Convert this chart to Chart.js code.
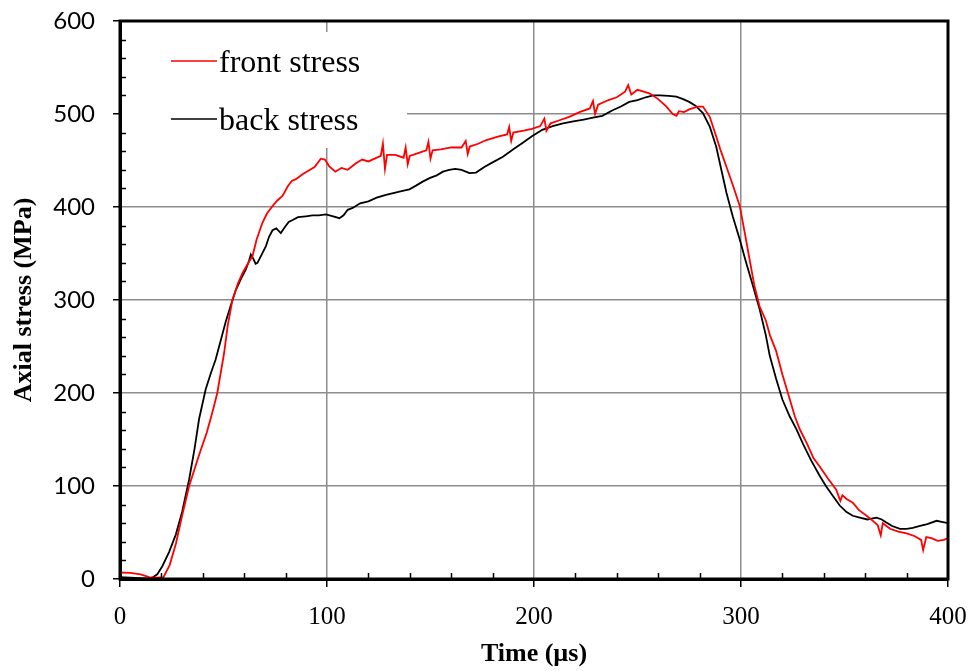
<!DOCTYPE html>
<html>
<head>
<meta charset="utf-8">
<script src="https://cdn.jsdelivr.net/npm/chart.js@4/dist/chart.umd.min.js"></script>
<style>
html,body{margin:0;padding:0;background:#fff;}
canvas{display:block;}
</style>
</head>
<body>
<canvas id="c" width="977" height="671"></canvas>
<script>
// ---- data ----
const seriesNames = ["front stress", "back stress"];
const xTickValues = [0, 100, 200, 300, 400];
const yTickValues = [0, 100, 200, 300, 400, 500, 600];

const frontTime = [0,5,10,14,18,21,24,27,30,33.4,38,42,44.6,47,50.3,52,54.3,57,59.2,62,64,66,68.8,71,73.7,76,78.5,81,83,85,88,91,94,97,99,101,104,107,110,114,117,120,123,126,127,128,129,133,137,138,139,140,144,148,149,150,151,155,160,165,167,168,169,173,177,183,187,188,189,190,195,199,203,205,206,208,212,217,222,227,228.5,229.5,231,236,240,244,245.5,247,250,253,256,260,264,267,268.8,270,272.5,275,279,281.6,284.9,288,290,293,296,299.4,302,304.2,306.5,309,312,314,317,320,323.6,326,328.4,332,335,338,342,346,348,349,351,354,357,360.7,364,366,367.5,368.5,372,376,380,384,387,388,389.5,392,395,398,400];
const frontStress = [7,6.5,5,2,1.5,2,15,38,68,100,132,158,179,200,243,272,300,318,329,340,347,365,383,393,401,407,412,422,428,430,435,439,443,452,451,444,438,442,440,447,451,449,452,455,468,441,456,456,453,464,446,455,458,461,470,452,461,462,464,464,471,457,465,468,472,476,478,486,471,480,482,484,487,495,482,490,493,497,502,506,514,500,510,515,518,524,531,521,526,524,522,516,508,500,498,503,502,505,508,508,497,476,462,443,424,401,370,343,315,293,278,262,245,220,193,175,161,145,130,121,108,96,84,90,86,82,74,68,62,58,47,60,54,51,49,46,42,31,45,44,41,42,44];

const backTime = [0,5,10,15,18,20.5,23.7,27,30,33.4,36,38.2,41.4,44,46.2,48.5,51,53.5,56,58.5,60.8,62.3,63.2,64.5,65.5,66.4,68.5,70.5,72,73.7,75.5,77.7,79.5,81.5,83.4,86,89.8,93,96,99.5,103,106,108,110,112.4,116,120,124,128.5,132,136,139.8,143,146,149.5,153,156,159,162,165,168.8,172,176,180,185,190,194.6,199,204,209,214,219,224,228.5,233,238,242,246,250,254,257.5,261,265,268.8,272,275,278,281.6,284.9,288,290.5,293,296,299.4,302.5,305.8,309,312,313.9,317,320,323.5,326.8,330,334,338,341,344.5,347.7,351,354,357.4,361,365.5,368,370,373,376.8,380,383,386.5,390,394.5,397,400];
const backStress = [2,1.5,1,0.5,5,14,29,48,72,107,140,172,204,222,236,255,276,294,311,323,333,342,349,344,339,340,349,358,368,375,377,372,378,384,386,389,390,391,391,392,390,388,391,397,399,404,406,410,413,415,417,419,423,427,431,434,438,440,441,440,436.5,437,443,448,454,462,469,476,483,487,490,492,494,496,498,504,508,513,515,518,520,520,519.5,518.7,516,513,509,501,486.5,465,440,415,390,365,340,315,290,262,240,215,193,175,161,145,127,111,100,89,79,72,68,66,64,66,64,61,57,54,54,55,57,59,62.6,61.5,60];

const seriesColors = ["#ff0000", "#000000"];

function toPoints(xs, ys){ return xs.map((x,i)=>({x:x, y:ys[i]})); }

const serif = "'Liberation Serif', 'Times New Roman', serif";

const decorPlugin = {
  id: 'decor',
  beforeDatasetsDraw(chart){
    const a = chart.chartArea, ctx = chart.ctx;
    ctx.save();
    ctx.fillStyle = '#ffffff';
    ctx.fillRect(a.left + 2, a.top + 11, 285, 116);
    ctx.restore();
  },
  afterDatasetsDraw(chart){
    const a = chart.chartArea, ctx = chart.ctx;
    const xs = chart.scales.x, ys = chart.scales.y;
    ctx.save();
    ctx.strokeStyle = '#000'; ctx.lineWidth = 1.5;
    ctx.beginPath();
    for (let v = 20; v < 400; v += 20){
      if (v % 100 === 0) continue;
      const px = Math.round(xs.getPixelForValue(v)) + 0.5;
      ctx.moveTo(px, a.bottom); ctx.lineTo(px, a.bottom - 6);
    }
    for (let v = 20; v < 600; v += 20){
      if (v % 100 === 0) continue;
      const py = Math.round(ys.getPixelForValue(v)) + 0.5;
      ctx.moveTo(a.left, py); ctx.lineTo(a.left + 6, py);
    }
    ctx.stroke();
    ctx.lineWidth = 3;
    ctx.strokeRect(a.left, a.top, a.right - a.left, a.bottom - a.top);
    ctx.lineWidth = 1.5;
    const rows = [40, 98];
    ctx.font = "32px " + serif;
    ctx.textBaseline = 'alphabetic';
    ctx.textAlign = 'left';
    seriesNames.forEach((name, i) => {
      const y = a.top + rows[i];
      ctx.strokeStyle = seriesColors[i];
      ctx.beginPath();
      ctx.moveTo(a.left + 51, y); ctx.lineTo(a.left + 97, y);
      ctx.stroke();
      ctx.fillStyle = '#000';
      ctx.fillText(name, a.left + 99, y + 11);
    });
    ctx.restore();
  }
};

new Chart(document.getElementById('c'), {
  type: 'line',
  data: {
    datasets: [
      { label: seriesNames[0], data: toPoints(frontTime, frontStress), borderColor: seriesColors[0], backgroundColor: seriesColors[0], borderWidth: 1.8, pointRadius: 0, tension: 0, fill: false },
      { label: seriesNames[1], data: toPoints(backTime, backStress), borderColor: seriesColors[1], backgroundColor: seriesColors[1], borderWidth: 1.8, pointRadius: 0, tension: 0, fill: false }
    ]
  },
  options: {
    responsive: false,
    animation: false,
    layout: { padding: { left: 0, top: 21, right: 29, bottom: 0 } },
    plugins: { legend: { display: false }, tooltip: { enabled: false } },
    scales: {
      x: {
        type: 'linear', min: 0, max: 400,
        afterBuildTicks(s){ s.ticks = xTickValues.map(v => ({value: v})); },
        afterFit(s){ s.height = 92; s.paddingLeft = 0; s.paddingRight = 0; },
        ticks: { color: '#000', font: { family: serif, size: 25 }, padding: 15, maxRotation: 0 },
        grid: { color: '#8c8c8c', lineWidth: 1.5, tickColor: '#000', tickLength: 8, tickWidth: 1.5 },
        border: { color: '#000', width: 3 },
        title: { display: true, text: 'Time (µs)', color: '#000', font: { family: serif, size: 26, weight: 'bold' }, padding: { top: 0, bottom: 1 } }
      },
      y: {
        type: 'linear', min: 0, max: 600,
        afterBuildTicks(s){ s.ticks = yTickValues.map(v => ({value: v})); },
        afterFit(s){ s.width = 120; s.paddingTop = 0; s.paddingBottom = 0; },
        ticks: { color: '#000', font: { family: "Lato, 'Liberation Sans', sans-serif", size: 24 }, padding: 18 },
        grid: { color: '#8c8c8c', lineWidth: 1.5, tickColor: '#000', tickLength: 7, tickWidth: 1.5 },
        border: { color: '#000', width: 3 },
        title: { display: true, text: 'Axial stress (MPa)', color: '#000', font: { family: serif, size: 26, weight: 'bold' }, padding: { top: 9, bottom: 0 } }
      }
    }
  },
  plugins: [decorPlugin]
});
</script>
</body>
</html>
